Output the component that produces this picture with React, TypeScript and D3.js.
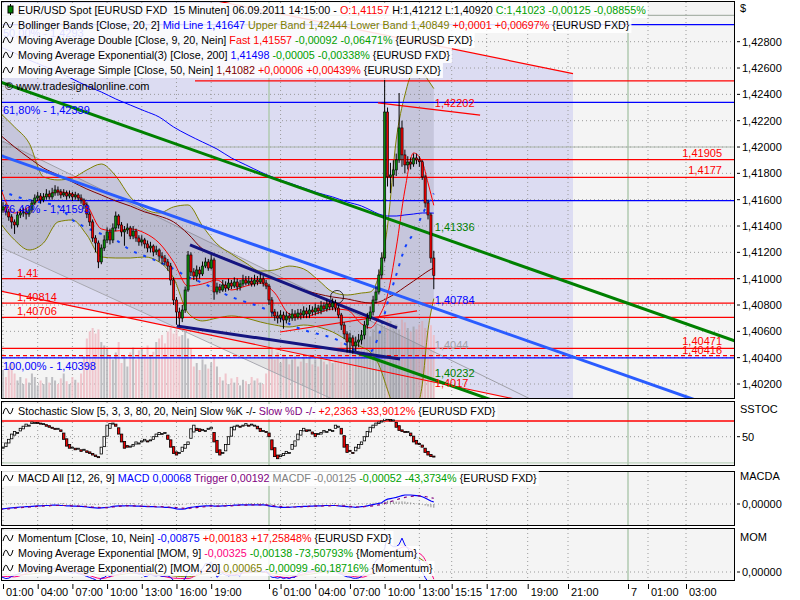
import React, { useLayoutEffect, useRef, useState } from 'react';
import * as d3 from 'd3';

// ---------------- DATA ----------------
const firstBarHour = 0.75; // 05.09. 00:45, hours counted from 05.09.2011 00:00
const barStep = 0.25; // 15 minutes
const firstOpen = 1.415;

const closes = [
  1.41522, 1.41545, 1.41507, 1.41469, 1.41431, 1.41408, 1.41484, 1.41499, 1.41507, 1.41491,
  1.41522, 1.41575, 1.41613, 1.41628, 1.41598, 1.41621, 1.41643, 1.41621, 1.41651, 1.41674,
  1.41659, 1.41636, 1.41651, 1.41628, 1.41643, 1.41621, 1.41636, 1.41613, 1.41598, 1.4156,
  1.41491, 1.41431, 1.41309, 1.41271, 1.41127, 1.41233, 1.41294, 1.41355, 1.41294, 1.41385,
  1.41476, 1.41408, 1.41355, 1.4137, 1.41385, 1.41324, 1.41362, 1.41309, 1.41279, 1.41294,
  1.41264, 1.41233, 1.41248, 1.41203, 1.41218, 1.41172, 1.41157, 1.41127, 1.41096, 1.4099,
  1.40838, 1.40747, 1.40701, 1.40762, 1.40914, 1.4118, 1.41051, 1.4102, 1.41066, 1.41036,
  1.41096, 1.41127, 1.41081, 1.41142, 1.40899, 1.40937, 1.40914, 1.40952, 1.40929, 1.40967,
  1.40944, 1.40975, 1.40937, 1.4096, 1.4099, 1.40967, 1.40982, 1.4096, 1.4099, 1.40975,
  1.40998, 1.40967, 1.40944, 1.40838, 1.40747, 1.40717, 1.40701, 1.40724, 1.40686, 1.40717,
  1.40701, 1.40732, 1.40709, 1.40739, 1.40724, 1.40755, 1.40732, 1.40762, 1.40747, 1.40777,
  1.40755, 1.40793, 1.4077, 1.40808, 1.40785, 1.40815, 1.40777, 1.40724, 1.40648, 1.4058,
  1.40519, 1.4055, 1.40489, 1.40519, 1.40534, 1.40572, 1.40648, 1.40701, 1.40747, 1.40838,
  1.40899, 1.41028, 1.41157, 1.42266, 1.41773, 1.41788, 1.41826, 1.41902, 1.42145, 1.4194,
  1.41864, 1.41886, 1.41871, 1.41917, 1.41902, 1.41888, 1.41773, 1.41575, 1.41484, 1.41157,
  1.41023,
];
const highs = [
  1.4156, 1.4158, 1.4157, 1.4153, 1.4149, 1.4145, 1.4151, 1.4153, 1.4154, 1.4153,
  1.4155, 1.416, 1.4164, 1.4166, 1.4165, 1.4165, 1.4168, 1.4167, 1.4169, 1.4171,
  1.417, 1.4168, 1.4168, 1.4167, 1.4167, 1.4166, 1.4166, 1.4165, 1.4164, 1.4161,
  1.4158, 1.4151, 1.4145, 1.4133, 1.4129, 1.4126, 1.4133, 1.4139, 1.4138, 1.4142,
  1.4151, 1.4149, 1.4143, 1.414, 1.4142, 1.414, 1.414, 1.4138, 1.4133, 1.4133,
  1.4131, 1.4129, 1.4128, 1.4126, 1.4125, 1.4123, 1.412, 1.4118, 1.4115, 1.4112,
  1.4101, 1.4086, 1.4078, 1.408, 1.4094, 1.4121, 1.412, 1.4108, 1.411, 1.4109,
  1.4113, 1.4116, 1.4115, 1.4118, 1.4116, 1.4097, 1.4096, 1.4099, 1.4098, 1.41,
  1.4099, 1.4101, 1.41, 1.4099, 1.4103, 1.4102, 1.4102, 1.4101, 1.4103, 1.4102,
  1.4104, 1.4102, 1.4099, 1.4096, 1.4086, 1.4077, 1.4075, 1.4076, 1.4075, 1.4075,
  1.4074, 1.4077, 1.4076, 1.4077, 1.4077, 1.4079, 1.4078, 1.408, 1.4079, 1.4081,
  1.408, 1.4083, 1.4082, 1.4084, 1.4083, 1.4085, 1.4084, 1.408, 1.4074, 1.4067,
  1.406, 1.4059, 1.4057, 1.4056, 1.4058, 1.4061, 1.4068, 1.4074, 1.4079, 1.4087,
  1.4094, 1.4107, 1.412, 1.4251, 1.423, 1.4188, 1.419, 1.4195, 1.4241, 1.422,
  1.4198, 1.4193, 1.4192, 1.4195, 1.4195, 1.4193, 1.419, 1.4179, 1.416, 1.415,
  1.41212,
];
const lows = [
  1.4147, 1.415, 1.4148, 1.4144, 1.4138, 1.4134, 1.4139, 1.4146, 1.4147, 1.4145,
  1.4147, 1.415, 1.4156, 1.4159, 1.4157, 1.4158, 1.416, 1.416, 1.416, 1.4163,
  1.4163, 1.4161, 1.4162, 1.416, 1.4161, 1.4159, 1.416, 1.4159, 1.4157, 1.4153,
  1.4146, 1.414, 1.4128, 1.412, 1.4108, 1.4111, 1.4121, 1.4127, 1.4126, 1.4127,
  1.4136, 1.4138, 1.4132, 1.4125, 1.4134, 1.413, 1.413, 1.4128, 1.4125, 1.4125,
  1.4123, 1.412, 1.412, 1.4117, 1.4118, 1.4113, 1.4111, 1.411, 1.4106, 1.4095,
  1.408, 1.4065, 1.4064, 1.4067, 1.4074, 1.409, 1.4102, 1.4099, 1.4098, 1.41,
  1.4102, 1.4108, 1.4106, 1.4107, 1.4084, 1.4088, 1.4089, 1.409, 1.409, 1.4091,
  1.4092, 1.4093, 1.4091, 1.4091, 1.4094, 1.4095, 1.4095, 1.4094, 1.4094, 1.4095,
  1.4096, 1.4094, 1.4092, 1.408, 1.4071, 1.4068, 1.4066, 1.4067, 1.4062, 1.4066,
  1.4067, 1.4068, 1.4068, 1.4069, 1.4069, 1.407, 1.407, 1.407, 1.4072, 1.4072,
  1.4073, 1.4073, 1.4075, 1.4075, 1.4076, 1.4076, 1.4075, 1.407, 1.4061, 1.4054,
  1.4044, 1.4044, 1.4043, 1.4045, 1.4048, 1.405, 1.4054, 1.4062, 1.4068, 1.4072,
  1.4081, 1.4088, 1.41, 1.4113, 1.417, 1.4165, 1.417, 1.4178, 1.4188, 1.4185,
  1.418, 1.4183, 1.4183, 1.4185, 1.4187, 1.4185, 1.4175, 1.4154, 1.4145, 1.4112,
  1.4092,
];
const volumes = [
  55, 40, 30, 45, 50, 35,
  25, 30, 20, 28, 22, 35, 30, 18, 25, 20, 30,
  22, 30, 25, 20, 28, 35, 24, 20, 30, 26, 22, 35,
  60, 85, 95, 100, 92, 98, 80,
  75, 70, 60, 55, 65, 80, 50, 60, 45, 65, 72, 55, 68,
  70, 62, 75, 60, 66, 80, 85, 90, 78, 95, 100, 92,
  98, 88, 90, 95, 85, 70,
  45, 50, 40, 55, 48, 42, 50, 60, 45,
  30, 25, 35, 20, 28, 22, 30, 18, 26, 24, 20, 30, 25, 28, 22, 20, 35,
  60, 70, 55, 65, 50, 62, 58, 48, 55, 60, 45, 52, 58, 50, 62, 48, 55, 45, 60, 52, 48, 56, 50,
  60, 70, 80, 65, 75, 85, 70, 82, 78, 90, 95, 100, 88, 98, 105, 95, 110, 100,
  115, 110, 100, 105, 98, 112, 108, 100, 95, 102, 98, 105, 110, 100, 96, 104, 90,
];
const stochK = [
  25, 30, 38, 45, 55, 60, 58, 66, 70, 74, 72, 78, 77, 76, 74, 75, 70, 68, 66, 64, 66,
  60, 45, 32, 28, 30, 25, 28, 22, 26, 20, 18, 15, 12, 10, 30, 50, 72, 75, 76,
  70, 55, 40, 28, 30, 32, 35, 40, 38, 42, 45, 40, 44, 50, 55, 58, 56, 58,
  45, 30, 18, 15, 20, 30, 35, 40, 65, 72, 62, 60, 64, 62, 66, 68, 40, 20, 15, 20,
  35, 50, 68, 70, 72, 68, 72, 75, 70, 74, 72, 65, 60, 62, 58, 50, 25, 12, 8,
  15, 18, 22, 20, 35, 42, 55, 62, 66, 60, 62, 55, 50, 56, 58, 62, 60, 64, 62,
  72, 70, 55, 30, 20, 22, 18, 30, 35, 40, 50, 60, 68, 72, 76, 78, 80,
  85, 84, 80, 82, 68, 62, 60, 58, 60, 52, 40, 36, 35, 30, 20, 15, 12, 12,
];
const stochD = [
  30, 28, 31, 38, 46, 53, 58, 61, 65, 70, 72, 75, 76, 77, 76, 75, 73, 71, 68, 66, 65,
  63, 57, 46, 35, 30, 28, 28, 25, 25, 23, 21, 18, 15, 12, 17, 31, 51, 66, 74,
  74, 67, 55, 41, 33, 30, 32, 36, 38, 40, 42, 42, 43, 45, 50, 54, 56, 57,
  53, 44, 31, 21, 18, 22, 28, 35, 47, 59, 66, 65, 62, 62, 64, 65, 58, 43, 25, 18,
  23, 35, 51, 63, 70, 70, 71, 72, 72, 73, 72, 70, 66, 62, 60, 57, 44, 29, 15,
  12, 14, 18, 20, 26, 32, 44, 53, 61, 63, 63, 59, 56, 54, 55, 59, 60, 62, 62,
  66, 68, 66, 52, 35, 24, 20, 23, 28, 35, 42, 50, 59, 67, 72, 75, 78,
  81, 83, 83, 82, 77, 71, 63, 60, 60, 57, 51, 43, 37, 34, 28, 22, 16, 13,
];
const macdLine = [
  -0.0016, -0.0016, -0.0015, -0.0014, -0.0013,
  -0.0012, -0.0011, -0.001, -0.001, -0.0009, -0.0009, -0.0008,
  -0.0007, -0.0006, -0.0006, -0.0005, -0.0005, -0.0005, -0.0004, -0.0004, -0.0004, -0.0005, -0.0005, -0.0006,
  -0.0006, -0.0007, -0.0007, -0.0008, -0.0008, -0.0009, -0.001, -0.0011, -0.0012,
  -0.0013, -0.0014, -0.0013, -0.0012, -0.0011, -0.001,
  -0.0008, -0.0007, -0.0006, -0.0006, -0.0006, -0.0005, -0.0006, -0.0006, -0.0007, -0.0007,
  -0.0008, -0.0008, -0.0009, -0.0009, -0.0009, -0.001, -0.001, -0.001, -0.0011, -0.0011, -0.0012,
  -0.0014, -0.0016, -0.0017, -0.0017, -0.0016, -0.0013,
  -0.0011, -0.001, -0.0009, -0.0008, -0.0007, -0.0006, -0.0006, -0.0005, -0.0007, -0.0007, -0.0007, -0.0006, -0.0006, -0.0005, -0.0005,
  -0.0004, -0.0004, -0.0003, -0.0003, -0.0003, -0.0003, -0.0003, -0.0003, -0.0003, -0.0003, -0.0003, -0.0004,
  -0.0006, -0.0008, -0.0009, -0.001, -0.0011, -0.0011, -0.0011, -0.0011, -0.001, -0.001, -0.0009, -0.0009,
  -0.0008, -0.0008, -0.0007, -0.0007, -0.0006, -0.0006, -0.0006, -0.0005, -0.0005, -0.0005, -0.0005, -0.0005,
  -0.0006, -0.0007, -0.0008, -0.0009, -0.001, -0.001, -0.0011, -0.001, -0.0009, -0.0008, -0.0006,
  -0.0004, -0.0002, 0.0, 0.0002, 0.0004,
  0.0012, 0.0016, 0.0018, 0.002, 0.0022, 0.0025, 0.0028,
  0.003, 0.003, 0.003, 0.0029, 0.0028, 0.0027,
  0.0024, 0.002, 0.0015, 0.001, 0.00068,
];
const triggerLine = [
  -0.0017, -0.0017, -0.0016, -0.0016, -0.0015,
  -0.0014, -0.0013, -0.0012, -0.0011, -0.0011, -0.001, -0.001,
  -0.0009, -0.0008, -0.0007, -0.0007, -0.0006, -0.0006, -0.0005, -0.0005, -0.0005, -0.0005, -0.0005, -0.0005,
  -0.0005, -0.0006, -0.0006, -0.0007, -0.0007, -0.0008, -0.0008, -0.0009, -0.001,
  -0.0011, -0.0011, -0.0012, -0.0012, -0.0012, -0.0011,
  -0.001, -0.0009, -0.0008, -0.0007, -0.0007, -0.0006, -0.0006, -0.0006, -0.0006, -0.0007,
  -0.0007, -0.0007, -0.0008, -0.0008, -0.0008, -0.0009, -0.0009, -0.0009, -0.001, -0.001, -0.0011,
  -0.0011, -0.0012, -0.0013, -0.0014, -0.0015, -0.0015,
  -0.0014, -0.0013, -0.0012, -0.0011, -0.001, -0.0009, -0.0008, -0.0007, -0.0007, -0.0007, -0.0007, -0.0007, -0.0006, -0.0006, -0.0006,
  -0.0005, -0.0005, -0.0004, -0.0004, -0.0004, -0.0003, -0.0003, -0.0003, -0.0003, -0.0003, -0.0003, -0.0003,
  -0.0004, -0.0005, -0.0006, -0.0007, -0.0008, -0.0009, -0.001, -0.001, -0.001, -0.001, -0.001, -0.001,
  -0.0009, -0.0009, -0.0008, -0.0008, -0.0007, -0.0007, -0.0007, -0.0006, -0.0006, -0.0006, -0.0005, -0.0005,
  -0.0005, -0.0006, -0.0006, -0.0007, -0.0008, -0.0009, -0.0009, -0.001, -0.001, -0.0009, -0.0008,
  -0.0007, -0.0006, -0.0005, -0.0003, -0.0002,
  0.0002, 0.0005, 0.0008, 0.0011, 0.0014, 0.0017, 0.0019,
  0.0022, 0.0024, 0.0025, 0.0026, 0.0027, 0.0027,
  0.0026, 0.0025, 0.0023, 0.0021, 0.00192,
];
const momentum = [
  -0.002, -0.0025, -0.003, -0.0028, -0.002, -0.0015, -0.001, -0.0005, 0.0002, 0.0008,
  0.0012, 0.0015, 0.0018, 0.002, 0.0015, 0.0012, 0.0016, 0.0014, 0.0012, 0.0018,
  0.0015, 0.0006, 0.0004, 0.0, -0.0002, -0.0005, -0.0003, -0.0008, -0.001, -0.0015,
  -0.002, -0.0025, -0.003, -0.0035, -0.0045, -0.0028, -0.0025, -0.0015, -0.002, -0.001,
  0.0, 0.0008, 0.0005, 0.0009, 0.0012, 0.0005, 0.0, -0.0005, -0.001, -0.0009,
  -0.0021, -0.0018, -0.001, -0.0016, -0.0017, -0.0015, -0.002, -0.0018, -0.0018, -0.0024,
  -0.0039, -0.0047, -0.0055, -0.0044, -0.0029, 0.0004, -0.0011, -0.0009, 0.0006, 0.0007,
  0.0014, 0.0038, 0.0038, 0.0044, 0.0019, -0.0024, -0.0013, -0.0007, -0.0014, -0.0017,
  -0.0015, -0.0016, -0.0014, -0.0018, 0.0009, 0.0003, 0.0007, 0.0001, 0.0006, 0.0001,
  0.0003, -0.0001, 0.0007, -0.0012, -0.0024, -0.0025, -0.0028, -0.0024, -0.003, -0.0026,
  -0.003, -0.0024, -0.0024, -0.001, -0.0002, 0.0004, 0.0002, 0.0004, 0.0006, 0.0006,
  0.0005, 0.0006, 0.0006, 0.0007, 0.0006, 0.0006, 0.0004, -0.0006, -0.001, -0.0017,
  -0.0022, -0.0023, -0.0028, -0.0029, -0.0027, -0.002, -0.0008, 0.0008, 0.0012, 0.0029,
  0.0052, 0.0063, 0.0092, 0.0105, 0.0172, 0.0123, 0.0115, 0.0115, 0.0125, 0.0154,
  0.0123, 0.0107, 0.0088, 0.0075, 0.0072, 0.0048, 0.0001, -0.0025, -0.0045, -0.0075, -0.00875,
];

// indicator lines read at these bar indices
const ovIdx = [0, 5, 10, 15, 20, 25, 30, 35, 40, 45, 50, 55, 60, 65, 70, 75, 80, 85, 90, 95, 100, 105, 110, 115, 120, 125, 128, 131, 134, 137, 140, 143, 146, 148, 150];
const ema200 = [1.4276, 1.42714, 1.42661, 1.42616, 1.4257, 1.42517, 1.42464, 1.42418, 1.42365, 1.42319, 1.42274, 1.42228, 1.42152, 1.42092, 1.42038, 1.41985, 1.41917, 1.41864, 1.41811, 1.41765, 1.41727, 1.41689, 1.41651, 1.41621, 1.41583, 1.41552, 1.41522, 1.41491, 1.41476, 1.41476, 1.41484, 1.41491, 1.41499, 1.41499, 1.41498];
const sma50 = [1.42092, 1.42, 1.41917, 1.41841, 1.41788, 1.41735, 1.41681, 1.41636, 1.4159, 1.41552, 1.41507, 1.41476, 1.41431, 1.4134, 1.41226, 1.4118, 1.41134, 1.41089, 1.41043, 1.40998, 1.40952, 1.40914, 1.40884, 1.40861, 1.40846, 1.40823, 1.40815, 1.40823, 1.40853, 1.40891, 1.40937, 1.40982, 1.41028, 1.41058, 1.41082];
const maFast = [1.41697, 1.41499, 1.41545, 1.41621, 1.41659, 1.41643, 1.4156, 1.41378, 1.41362, 1.41378, 1.41347, 1.41271, 1.41127, 1.40944, 1.4096, 1.4099, 1.40914, 1.40944, 1.40967, 1.40891, 1.40732, 1.40709, 1.40739, 1.4077, 1.40762, 1.40656, 1.40626, 1.40709, 1.40876, 1.41233, 1.41674, 1.41955, 1.41886, 1.41727, 1.41557];
const bbUpper = [1.42259, 1.42152, 1.42031, 1.41773, 1.4175, 1.41765, 1.41826, 1.41871, 1.4178, 1.41621, 1.41529, 1.41499, 1.41545, 1.4156, 1.414, 1.41264, 1.41188, 1.41119, 1.41058, 1.41066, 1.41096, 1.41074, 1.4099, 1.40899, 1.40876, 1.40891, 1.40899, 1.41028, 1.414, 1.42054, 1.42395, 1.4257, 1.4257, 1.42509, 1.42444];
const bbLower = [1.41423, 1.41294, 1.41218, 1.41271, 1.41431, 1.41446, 1.41332, 1.41165, 1.41157, 1.41157, 1.41165, 1.41127, 1.41005, 1.40739, 1.40679, 1.40701, 1.40717, 1.40701, 1.40671, 1.40648, 1.40633, 1.40648, 1.40633, 1.40595, 1.40534, 1.40481, 1.40443, 1.40345, 1.40155, 1.39965, 1.39889, 1.39965, 1.40193, 1.4061, 1.40849];
const bbMid = [1.41674, 1.41628, 1.41598, 1.41575, 1.41552, 1.41446, 1.41385, 1.4134, 1.41294, 1.41218, 1.41172, 1.41127, 1.41074, 1.41013, 1.40967, 1.40914, 1.40861, 1.40823, 1.40785, 1.40732, 1.40656, 1.4061, 1.4058, 1.4055, 1.40496, 1.40436, 1.40443, 1.40572, 1.40815, 1.41028, 1.41233, 1.41347, 1.41484, 1.41575, 1.41647];
const momEma9 = [-0.0018, -0.0022, -0.0002, 0.0012, 0.0015, 0.0003, -0.0012, -0.003, -0.0014, 0.0004, -0.001, -0.0016, -0.0028, -0.003, 0.0002, 0.001, -0.0014, -0.0002, 0.0004, -0.0018, -0.0026, -0.0008, 0.0004, 0.0006, -0.0014, -0.0024, -0.001, 0.002, 0.008, 0.01, 0.0115, 0.0095, 0.0075, 0.003, -0.00325];
const momEma20 = [-0.001, -0.0014, -0.001, -0.0002, 0.0006, 0.0006, 0.0, -0.0014, -0.0015, -0.0006, -0.0006, -0.001, -0.0018, -0.0022, -0.001, 0.0, -0.0004, -0.0004, 0.0, -0.0008, -0.0016, -0.0014, -0.0004, 0.0002, -0.0006, -0.0016, -0.0012, 0.0002, 0.004, 0.006, 0.0072, 0.007, 0.0055, 0.003, 0.00065];

// drawn objects: [hour1, price1, hour2, price2]
const greenUpper = [0.74, 1.42494, 35.33, 1.41423];
const greenLower = [31.44, 1.40443, 38.27, 1.40232];
const blueTrend = [0.91, 1.41932, 38.27, 1.40777];
const navyUpper = [17.17, 1.41256, 35.07, 1.40626];
const navyLower = [16.04, 1.40641, 35.33, 1.4039];
const redChannelTop = [26.68, 1.42981, 38.27, 1.42773];
const redChannelBottom = [0.74, 1.40907, 35.33, 1.40269];
const redShort = [33.42, 1.42335, 38.27, 1.42284];
const redLow = [24.95, 1.40595, 36.8, 1.40755];
const grayUpper = [0.74, 1.42054, 38.27, 1.40443];
const grayLower = [0.74, 1.41241, 29.27, 1.40094];
const marker = [29.88, 1.40861];

const redLevels = [1.41905, 1.4177, 1.41, 1.40814, 1.40706, 1.40471];
const redDashedLevel = 1.40416;
const redTopLevel = 1.42502;
const fibLevels = [1.4293, 1.42339, 1.41593, 1.40398];
const fibLabels = ['50,00% - 1,4293', '61,80% - 1,42339', '76,40% - 1,41593', '100,00% - 1,40398'];

const priceTicks = [1.428, 1.426, 1.424, 1.422, 1.42, 1.418, 1.416, 1.414, 1.412, 1.41, 1.408, 1.406, 1.404, 1.402];
const majorPrices = [1.43, 1.42, 1.41];
const timeTickHours = [1, 4, 7, 10, 13, 16, 19, 24, 25, 28, 31, 34, 37, 39.25, 41, 43, 45, 48, 49, 51];
const timeTickLabels = ['01:00', '04:00', '07:00', '10:00', '13:00', '16:00', '19:00', '6', '01:00', '04:00', '07:00', '10:00', '13:00', '15:15', '17:00', '19:00', '21:00', '7', '01:00', '03:00'];
const dayHours = [24, 48];

// ---------------- LAYOUT ----------------
const FONT = "'Liberation Sans', Arial, Helvetica, sans-serif";
const PL = 2, PR = 734;
const MAIN = { top: 2, bottom: 398 };
const STO = { top: 402, bottom: 465 };
const MAC = { top: 472, bottom: 525 };
const MOMP = { top: 529, bottom: 580 };
const LAV = '#dcdcf2';
const LIGHT = '#f4f4f4';
const RED = '#ff0000', GREEN = '#00a000', BLUE = '#0000ff', BLACK = '#000000', OLIVE = '#808000', MAROON = '#800000', PURPLE = '#800080', GRAY = '#808080', PINK = '#ff0080';
const DAYCOL = '#b0cab0';

const xs = d3.scaleLinear()
  .domain([0, 38.25, 39.25, 41, 43, 45, 48, 49, 51, 53])
  .range([-8.56, 433.8, 451.7, 486.7, 527.7, 568, 628, 648, 686, 724]);
const ys = d3.scaleLinear().domain([1.402, 1.428]).range([384, 41.7]);
const ysSto = d3.scaleLinear().domain([0, 100]).range([462.9, 410.5]);
const ysMacd = d3.scaleLinear().domain([0, 0.001]).range([504, 501]);
const ysMom = d3.scaleLinear().domain([0, 0.001]).range([572, 569.8]);
const ysVol = d3.scaleLinear().domain([0, 100]).range([398, 328]);

const barX = (i: number) => xs(firstBarHour + barStep * i);
const ovX = (j: number) => barX(ovIdx[j]);

function lineY(l: number[], xp: number) {
  const x1 = xs(l[0]), y1 = ys(l[1]), x2 = xs(l[2]), y2 = ys(l[3]);
  return y1 + ((y2 - y1) / (x2 - x1)) * (xp - x1);
}

function TL({ l, from, to, stroke, w = 1, dash }: { l: number[]; from: number; to: number; stroke: string; w?: number; dash?: string }) {
  const xa = xs(from), xb = xs(to);
  return <line x1={xa} y1={lineY(l, xa)} x2={xb} y2={lineY(l, xb)} stroke={stroke} strokeWidth={w} strokeDasharray={dash} />;
}

const fmt = (v: number, d = 5) => v.toFixed(d).replace('.', ',');

type Part = [string, string];
function Legend({ y, parts, icon }: { y: number; parts: Part[]; icon: 'candle' | 'wave' }) {
  const ref = useRef<SVGTextElement>(null);
  const [w, setW] = useState(600);
  useLayoutEffect(() => {
    if (ref.current) setW(ref.current.getComputedTextLength());
  }, []);
  const c = y - 4;
  return (
    <g>
      <rect x={2} y={y - 11} width={18 + w} height={15} fill="#ffffff" fillOpacity={0.86} />
      {icon === 'candle' ? (
        <g>
          <line x1={10.5} y1={y - 10} x2={10.5} y2={y + 1} stroke="#000" />
          <rect x={8} y={y - 8} width={5} height={7} fill="#008000" stroke="#000" />
        </g>
      ) : (
        <path d={`M3,${c + 3} Q5.5,${c - 7} 8,${c} T13,${c - 3}`} fill="none" stroke="#000" strokeWidth={1} />
      )}
      <text ref={ref} x={18} y={y} fontSize={10.75} xmlSpace="preserve" style={{ whiteSpace: 'pre' }}>
        {parts.map((p, k) => (
          <tspan key={k} fill={p[1]}>{p[0]}</tspan>
        ))}
      </text>
    </g>
  );
}

const mainLegends: Part[][] = [
  [['EUR/USD Spot [EURUSD FXD  15 Minuten] 06.09.2011 14:15:00 - ', BLACK], ['O:1,41157', RED], [' H:1,41212 L:1,40920 ', BLACK], ['C:1,41023 -0,00125 -0,08855%', GREEN]],
  [['Bollinger Bands [Close, 20, 2] ', BLACK], ['Mid Line 1,41647', BLUE], [' Upper Band 1,42444 Lower Band 1,40849', OLIVE], [' +0,0001 +0,00697%', RED], [' {EURUSD FXD}', BLACK]],
  [['Moving Average Double [Close, 9, 20, Nein] ', BLACK], ['Fast 1,41557', RED], [' -0,00092 -0,06471%', GREEN], [' {EURUSD FXD}', BLACK]],
  [['Moving Average Exponential(3) [Close, 200] ', BLACK], ['1,41498', BLUE], [' -0,00005 -0,00338%', GREEN], [' {EURUSD FXD}', BLACK]],
  [['Moving Average Simple [Close, 50, Nein] ', BLACK], ['1,41082', MAROON], [' +0,00006 +0,00439%', RED], [' {EURUSD FXD}', BLACK]],
];
const stoLegend: Part[] = [['Stochastic Slow [5, 3, 3, 80, 20, Nein] Slow %K -/- ', BLACK], ['Slow %D -/-', PURPLE], [' +2,2363 +33,9012%', RED], [' {EURUSD FXD}', BLACK]];
const macdLegend: Part[] = [['MACD All [12, 26, 9] ', BLACK], ['MACD 0,00068', BLUE], [' Trigger 0,00192', PURPLE], [' MACDF -0,00125', GRAY], [' -0,00052 -43,3734%', GREEN], [' {EURUSD FXD}', BLACK]];
const momLegends: Part[][] = [
  [['Momentum [Close, 10, Nein] ', BLACK], ['-0,00875', BLUE], [' +0,00183 +17,25848%', RED], [' {EURUSD FXD}', BLACK]],
  [['Moving Average Exponential [MOM, 9] ', BLACK], ['-0,00325', PINK], [' -0,00138 -73,50793%', GREEN], [' {Momentum}', BLACK]],
  [['Moving Average Exponential(2) [MOM, 20] ', BLACK], ['0,00065', OLIVE], [' -0,00099 -60,18716%', GREEN], [' {Momentum}', BLACK]],
];

function PanelGrid({ top, bottom, hLines }: { top: number; bottom: number; hLines: number[] }) {
  return (
    <g>
      {timeTickHours.map((h, k) =>
        dayHours.includes(h) ? null : (
          <line key={'v' + k} x1={xs(h)} x2={xs(h)} y1={top} y2={bottom} stroke="#9a9a9a" strokeDasharray="1,3" />
        )
      )}
      {hLines.map((y, k) => (
        <line key={'h' + k} x1={PL} x2={PR} y1={y} y2={y} stroke="#9a9a9a" strokeDasharray="1,3" />
      ))}
      {dayHours.map((h, k) => (
        <line key={'d' + k} x1={xs(h)} x2={xs(h)} y1={top} y2={bottom} stroke={DAYCOL} strokeWidth={1.5} />
      ))}
    </g>
  );
}

export default function App() {
  const bars = closes.map((c, i) => {
    const o = i === 0 ? firstOpen : closes[i - 1];
    return { i, x: barX(i), o, c, h: highs[i], l: lows[i] };
  });

  const ovLine = (vals: number[], sc: (v: number) => number) =>
    d3.line<number>().x((_, j) => ovX(j)).y((v) => sc(v)).curve(d3.curveMonotoneX)(vals) || '';

  const bbArea = d3.area<number>()
    .x((_, j) => ovX(j))
    .y0((_, j) => ys(bbLower[j]))
    .y1((_, j) => ys(bbUpper[j]))
    .curve(d3.curveMonotoneX)(ovIdx) || '';

  const xa = xs(0), xb = xs(45.25);
  const lavPoly = `M${xa},${lineY(redChannelTop, xa)} L${xb},${lineY(redChannelTop, xb)} L${xb},${lineY(redChannelBottom, xb)} L${xa},${lineY(redChannelBottom, xa)} Z`;
  const gb = xs(38.25);
  const grayPoly = `M${xa},${lineY(grayUpper, xa)} L${gb},${lineY(grayUpper, gb)} L${gb},${lineY(grayLower, gb)} L${xa},${lineY(grayLower, xa)} Z`;

  const momLine = d3.line<number>().x((_, i) => barX(i)).y((v) => ysMom(v))(momentum) || '';
  const macdPath = d3.line<number>().x((_, i) => barX(i)).y((v) => ysMacd(v))(macdLine) || '';
  const trigPath = d3.line<number>().x((_, i) => barX(i)).y((v) => ysMacd(v))(triggerLine) || '';

  const lx = xs(38.25) + 1;

  return (
    <div style={{ position: 'absolute', left: 0, top: 0, width: 800, height: 600, background: '#fff' }}>
      <svg width={800} height={600} style={{ display: 'block', fontFamily: FONT, fontSize: 11 }}>
        <defs>
          <clipPath id="cMain"><rect x={PL} y={MAIN.top} width={PR - PL} height={MAIN.bottom - MAIN.top} /></clipPath>
          <clipPath id="cSto"><rect x={PL} y={STO.top} width={PR - PL} height={STO.bottom - STO.top} /></clipPath>
          <clipPath id="cMac"><rect x={PL} y={MAC.top} width={PR - PL} height={MAC.bottom - MAC.top} /></clipPath>
          <clipPath id="cMom"><rect x={PL} y={MOMP.top} width={PR - PL} height={MOMP.bottom - MOMP.top} /></clipPath>
        </defs>
        <rect x={0} y={0} width={800} height={600} fill="#ffffff" />

        {/* ---------- MAIN PANEL ---------- */}
        <g clipPath="url(#cMain)">
          <rect x={PL} y={MAIN.top} width={PR - PL} height={MAIN.bottom - MAIN.top} fill={LIGHT} />
          <path d={lavPoly} fill={LAV} />
          <PanelGrid top={MAIN.top} bottom={MAIN.bottom} hLines={priceTicks.map((p) => ys(p))} />
          {majorPrices.map((p, k) => (
            <line key={k} x1={PL} x2={PR} y1={ys(p)} y2={ys(p)} stroke="#aab4aa" strokeWidth={1.2} />
          ))}
          {bars.map((b) => (
            <rect key={'v' + b.i} x={b.x - 1} width={2} y={ysVol(volumes[b.i])} height={ysVol(0) - ysVol(volumes[b.i])}
              fill={b.c >= b.o ? '#b4b4b8' : '#efbcc4'} fillOpacity={0.85} />
          ))}
          <path d={grayPoly} fill="#80808a" fillOpacity={0.14} />
          <TL l={grayUpper} from={0} to={60} stroke="#a0a0a8" />
          <TL l={grayLower} from={0} to={38.25} stroke="#a8a8b0" />
          <path d={bbArea} fill="#707088" fillOpacity={0.2} />
          <path d={ovLine(bbUpper, ys)} fill="none" stroke={OLIVE} strokeWidth={1} />
          <path d={ovLine(bbLower, ys)} fill="none" stroke={OLIVE} strokeWidth={1} />
          {fibLevels.map((p, k) => (
            <line key={'f' + k} x1={PL} x2={PR} y1={ys(p)} y2={ys(p)} stroke={BLUE} strokeWidth={1.3} />
          ))}
          {redLevels.map((p, k) => (
            <line key={'r' + k} x1={PL} x2={PR} y1={ys(p)} y2={ys(p)} stroke={RED} strokeWidth={1.3} />
          ))}
          <line x1={PL} x2={PR} y1={ys(redDashedLevel)} y2={ys(redDashedLevel)} stroke={RED} strokeWidth={1.2} strokeDasharray="4,3" />
          <line x1={xs(17.6)} x2={PR} y1={ys(redTopLevel)} y2={ys(redTopLevel)} stroke={RED} strokeWidth={1.3} />
          <TL l={redChannelTop} from={0} to={45.25} stroke={RED} w={1.2} />
          <TL l={redChannelBottom} from={0} to={45.25} stroke={RED} w={1.2} />
          <TL l={redShort} from={33.42} to={40.67} stroke={RED} w={1.2} />
          <TL l={redLow} from={24.95} to={36.8} stroke={RED} w={1.2} />
          <path d={ovLine(ema200, ys)} fill="none" stroke={BLUE} strokeWidth={1} />
          <path d={ovLine(sma50, ys)} fill="none" stroke={MAROON} strokeWidth={1} />
          <path d={ovLine(bbMid, ys)} fill="none" stroke="#1040ff" strokeWidth={2} strokeDasharray="3,7" />
          <path d={ovLine(maFast, ys)} fill="none" stroke={RED} strokeWidth={1} />
          <TL l={greenUpper} from={-1} to={60} stroke="#008000" w={3} />
          <TL l={greenLower} from={31.44} to={60} stroke="#008000" w={3} />
          <TL l={blueTrend} from={0.75} to={60} stroke="#2a5cff" w={3} />
          <TL l={navyUpper} from={17.17} to={35.07} stroke="#141480" w={3} />
          <TL l={navyLower} from={16.04} to={35.33} stroke="#141480" w={3} />
          <circle cx={xs(marker[0])} cy={ys(marker[1])} r={6.5} fill="none" stroke="#000" strokeWidth={0.8} />
          {bars.map((b) => {
            const top = ys(Math.max(b.o, b.c));
            const bot = ys(Math.min(b.o, b.c));
            return (
              <g key={'c' + b.i}>
                <line x1={b.x} x2={b.x} y1={ys(b.h)} y2={ys(b.l)} stroke="#000" strokeWidth={1} />
                <rect x={b.x - 1.1} width={2.2} y={top} height={Math.max(1, bot - top)}
                  fill={b.c >= b.o ? '#0a8a0a' : '#f00000'} stroke="#000" strokeWidth={0.6} />
              </g>
            );
          })}
          <text x={5} y={90} fill="#000">© www.tradesignalonline.com</text>
          {fibLevels.map((p, k) => (
            <text key={'fl' + k} x={3} y={ys(p) + 12} fill={BLUE}>{fibLabels[k]}</text>
          ))}
          <text x={17} y={ys(1.41) - 2} fill={RED}>1,41</text>
          <text x={17} y={ys(1.40814) - 2} fill={RED}>{fmt(1.40814)}</text>
          <text x={17} y={ys(1.40706) - 2} fill={RED}>{fmt(1.40706)}</text>
          <text x={722} y={ys(1.41905) - 3} fill={RED} textAnchor="end">{fmt(1.41905)}</text>
          <text x={722} y={ys(1.4177) - 3} fill={RED} textAnchor="end">1,4177</text>
          <text x={722} y={ys(1.40471) - 3} fill={RED} textAnchor="end">{fmt(1.40471)}</text>
          <text x={722} y={ys(redDashedLevel) - 2} fill={RED} textAnchor="end">{fmt(redDashedLevel)}</text>
          <text x={lx} y={lineY(redShort, xs(38.25)) - 3} fill={RED}>1,42202</text>
          <text x={lx} y={ys(1.41336) - 3} fill="#008000">1,41336</text>
          <text x={lx} y={ys(1.40784) - 3} fill={BLUE}>1,40784</text>
          <text x={lx} y={ys(1.4044) - 3} fill="#a0a0a8">1,4044</text>
          <text x={lx} y={ys(1.4017) - 1} fill={RED}>1,4017</text>
          <text x={lx} y={ys(1.40232) - 3} fill="#008000">1,40232</text>
        </g>
        <rect x={1.5} y={1.5} width={PR - 1} height={MAIN.bottom - 1} fill="none" stroke="#000" strokeWidth={1} />
        {mainLegends.map((p, k) => (
          <Legend key={k} y={14 + 15 * k} parts={p} icon={k === 0 ? 'candle' : 'wave'} />
        ))}

        {/* ---------- STOCHASTIC ---------- */}
        <g clipPath="url(#cSto)">
          <rect x={PL} y={STO.top} width={PR - PL} height={STO.bottom - STO.top} fill={LIGHT} />
          <PanelGrid top={STO.top} bottom={STO.bottom} hLines={[ysSto(50)]} />
          <line x1={PL} x2={PR} y1={ysSto(80)} y2={ysSto(80)} stroke={RED} strokeWidth={1.3} />
          <line x1={PL} x2={PR} y1={ysSto(0)} y2={ysSto(0)} stroke={DAYCOL} strokeWidth={1} />
          {bars.map((b) => {
            const k = stochK[b.i], d = stochD[b.i];
            const y1 = ysSto(Math.max(k, d)), y2 = ysSto(Math.min(k, d));
            return (
              <rect key={'s' + b.i} x={b.x - 1.2} width={2.4} y={y1} height={Math.max(1, y2 - y1)}
                fill={k >= d ? '#ffffff' : '#f00000'} stroke="#000" strokeWidth={0.8} />
            );
          })}
        </g>
        <rect x={1.5} y={STO.top - 0.5} width={PR - 1} height={STO.bottom - STO.top + 1} fill="none" stroke="#000" />
        <Legend y={415} parts={stoLegend} icon="wave" />

        {/* ---------- MACD ---------- */}
        <g clipPath="url(#cMac)">
          <rect x={PL} y={MAC.top} width={PR - PL} height={MAC.bottom - MAC.top} fill={LIGHT} />
          <PanelGrid top={MAC.top} bottom={MAC.bottom} hLines={[ysMacd(0)]} />
          {bars.map((b) => {
            const v = macdLine[b.i] - triggerLine[b.i];
            const y0 = ysMacd(0), y1 = ysMacd(v);
            return <line key={'m' + b.i} x1={b.x} x2={b.x} y1={y0} y2={y1 === y0 ? y0 - 1 : y1} stroke="#909090" strokeWidth={1} />;
          })}
          <path d={macdPath} fill="none" stroke={BLUE} strokeWidth={1.2} />
          <path d={trigPath} fill="none" stroke={PURPLE} strokeWidth={1.2} strokeDasharray="3,4" />
        </g>
        <rect x={1.5} y={MAC.top - 0.5} width={PR - 1} height={MAC.bottom - MAC.top + 1} fill="none" stroke="#000" />
        <Legend y={482} parts={macdLegend} icon="wave" />

        {/* ---------- MOMENTUM ---------- */}
        <g clipPath="url(#cMom)">
          <rect x={PL} y={MOMP.top} width={PR - PL} height={MOMP.bottom - MOMP.top} fill={LIGHT} />
          <PanelGrid top={MOMP.top} bottom={MOMP.bottom} hLines={[ysMom(0)]} />
          <path d={ovLine(momEma20, ysMom)} fill="none" stroke={OLIVE} strokeWidth={1} />
          <path d={ovLine(momEma9, ysMom)} fill="none" stroke={PINK} strokeWidth={1} />
          <path d={momLine} fill="none" stroke={BLUE} strokeWidth={1} />
        </g>
        <rect x={1.5} y={MOMP.top - 0.5} width={PR - 1} height={MOMP.bottom - MOMP.top + 1} fill="none" stroke="#000" />
        {momLegends.map((p, k) => (
          <Legend key={k} y={542 + 15 * k} parts={p} icon="wave" />
        ))}

        {/* ---------- AXES ---------- */}
        <text x={740} y={12} fill="#000">$</text>
        {priceTicks.map((p, k) => (
          <g key={'pt' + k}>
            <line x1={737} x2={740} y1={ys(p)} y2={ys(p)} stroke="#000" />
            <text x={742} y={ys(p) + 4} fill="#000">{fmt(p)}</text>
          </g>
        ))}
        <text x={740} y={413} fill="#000">SSTOC</text>
        <line x1={737} x2={740} y1={ysSto(50)} y2={ysSto(50)} stroke="#000" />
        <text x={742} y={ysSto(50) + 4} fill="#000">50</text>
        <text x={740} y={480} fill="#000">MACDA</text>
        <line x1={737} x2={740} y1={ysMacd(0)} y2={ysMacd(0)} stroke="#000" />
        <text x={742} y={ysMacd(0) + 4} fill="#000">0,00000</text>
        <text x={740} y={541} fill="#000">MOM</text>
        <line x1={737} x2={740} y1={ysMom(0)} y2={ysMom(0)} stroke="#000" />
        <text x={742} y={ysMom(0) + 4} fill="#000">0,00000</text>

        {timeTickHours.map((h, k) => (
          <g key={'tt' + k}>
            <line x1={xs(h) + 0.5} x2={xs(h) + 0.5} y1={584} y2={589} stroke="#000" />
            <text x={xs(h) + 3} y={596} fill="#000">{timeTickLabels[k]}</text>
          </g>
        ))}
      </svg>
    </div>
  );
}
